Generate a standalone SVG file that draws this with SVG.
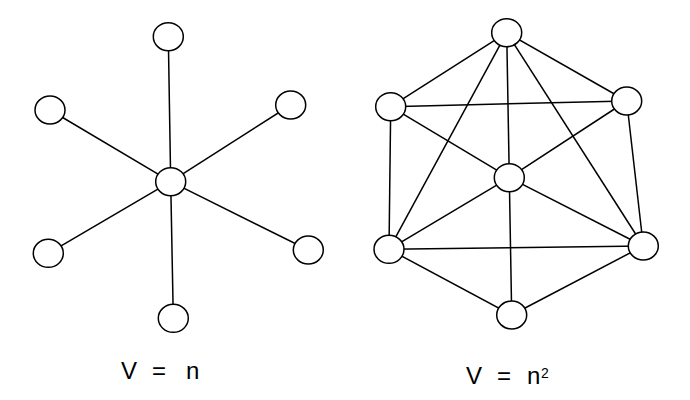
<svg xmlns="http://www.w3.org/2000/svg" width="690" height="400" viewBox="0 0 690 400">
<style>
.e line{stroke:#000;stroke-width:1.5;}
.n ellipse{fill:#fff;stroke:#000;stroke-width:1.5;}
.t{font-family:"Liberation Sans",Arial,sans-serif;font-size:24px;fill:#000;}
.s{font-family:"Liberation Sans",Arial,sans-serif;font-size:14px;fill:#000;}
</style>
<rect width="690" height="400" fill="#fff"/>
<g id="connectors" class="e">
<line x1="170.7" y1="181.7" x2="168.3" y2="36.7"/>
<line x1="170.7" y1="181.7" x2="50" y2="110"/>
<line x1="170.7" y1="181.7" x2="290.7" y2="105"/>
<line x1="170.7" y1="181.7" x2="48.3" y2="253.3"/>
<line x1="170.7" y1="181.7" x2="308.3" y2="250"/>
<line x1="170.7" y1="181.7" x2="173.3" y2="318.3"/>
<line x1="506.7" y1="32.7" x2="390.7" y2="106.7"/>
<line x1="506.7" y1="32.7" x2="626.7" y2="101"/>
<line x1="506.7" y1="32.7" x2="509.3" y2="177.7"/>
<line x1="506.7" y1="32.7" x2="389" y2="249.3"/>
<line x1="506.7" y1="32.7" x2="643.3" y2="246"/>
<line x1="390.7" y1="106.7" x2="626.7" y2="101"/>
<line x1="390.7" y1="106.7" x2="509.3" y2="177.7"/>
<line x1="390.7" y1="106.7" x2="389" y2="249.3"/>
<line x1="626.7" y1="101" x2="509.3" y2="177.7"/>
<line x1="626.7" y1="101" x2="643.3" y2="246"/>
<line x1="509.3" y1="177.7" x2="389" y2="249.3"/>
<line x1="509.3" y1="177.7" x2="643.3" y2="246"/>
<line x1="509.3" y1="177.7" x2="511.7" y2="315"/>
<line x1="389" y1="249.3" x2="643.3" y2="246"/>
<line x1="389" y1="249.3" x2="511.7" y2="315"/>
<line x1="643.3" y1="246" x2="511.7" y2="315"/>
</g>
<g class="n">
<g id="a-top"><ellipse cx="168.3" cy="36.7" rx="15" ry="14"/></g>
<g id="a-ul"><ellipse cx="50" cy="110" rx="15" ry="14"/></g>
<g id="a-ur"><ellipse cx="290.7" cy="105" rx="15" ry="14"/></g>
<g id="a-c"><ellipse cx="170.7" cy="181.7" rx="15" ry="14"/></g>
<g id="a-ll"><ellipse cx="48.3" cy="253.3" rx="15" ry="14"/></g>
<g id="a-lr"><ellipse cx="308.3" cy="250" rx="15" ry="14"/></g>
<g id="a-b"><ellipse cx="173.3" cy="318.3" rx="15" ry="14"/></g>
<g id="b-top"><ellipse cx="506.7" cy="32.7" rx="15" ry="14"/></g>
<g id="b-ul"><ellipse cx="390.7" cy="106.7" rx="15" ry="14"/></g>
<g id="b-ur"><ellipse cx="626.7" cy="101" rx="15" ry="14"/></g>
<g id="b-c"><ellipse cx="509.3" cy="177.7" rx="15" ry="14"/></g>
<g id="b-ll"><ellipse cx="389" cy="249.3" rx="15" ry="14"/></g>
<g id="b-lr"><ellipse cx="643.3" cy="246" rx="15" ry="14"/></g>
<g id="b-b"><ellipse cx="511.7" cy="315" rx="15" ry="14"/></g>
</g>
<g id="label-left">
<text class="t" y="379"><tspan x="121">V</tspan><tspan x="152">=</tspan><tspan x="186">n</tspan></text>
</g>
<g id="label-right">
<text class="t" y="384"><tspan x="466">V</tspan><tspan x="497">=</tspan><tspan x="527">n</tspan></text>
<text class="s" x="541" y="378">2</text>
</g>
</svg>
